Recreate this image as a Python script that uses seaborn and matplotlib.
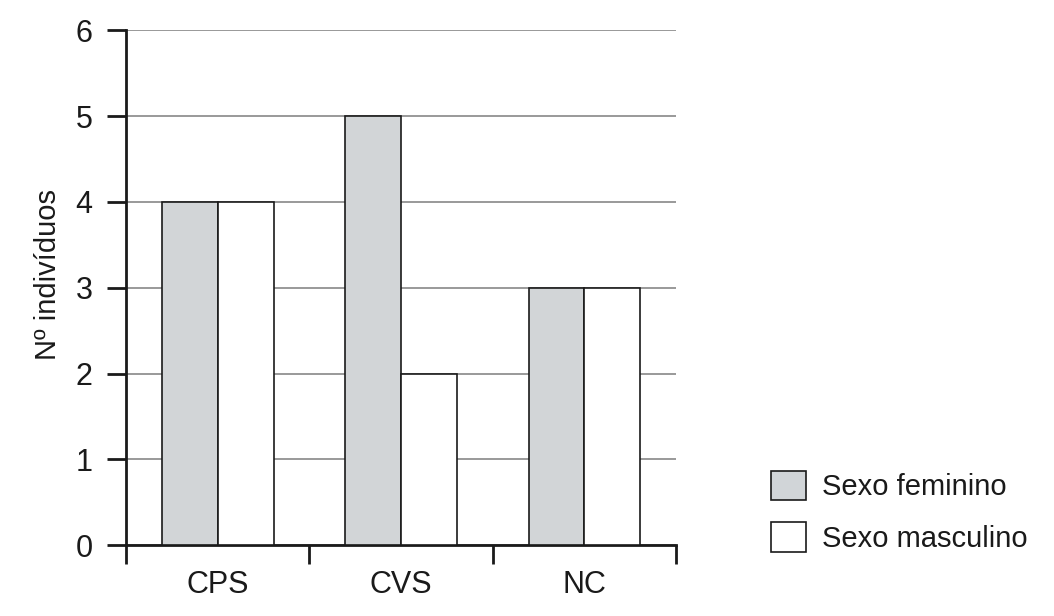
import pandas as pd
import seaborn as sns
import matplotlib.pyplot as plt
from matplotlib.patches import Patch

# Data
grupos = ['CPS', 'CVS', 'NC']
feminino = [4, 5, 3]
masculino = [4, 2, 3]
sexos = ['Sexo feminino', 'Sexo masculino']
cores = ['#d1d5d8', '#ffffff']

df = pd.DataFrame({
    'grupo': grupos * 2,
    'sexo': [sexos[0]] * 3 + [sexos[1]] * 3,
    'n': feminino + masculino,
})

sns.set_style('white')
plt.rcParams['font.family'] = ['Liberation Sans', 'DejaVu Sans']

fig = plt.figure(figsize=(10.54, 6.16), dpi=100)
ax = fig.add_axes([0.1195, 0.115, 0.522, 0.836])

sns.barplot(data=df, x='grupo', y='n', hue='sexo', palette=cores,
            width=0.61, gap=0, edgecolor='#1a1a1a', linewidth=1.2,
            ax=ax, legend=False, zorder=3)

ax.set_ylim(0, 6)
ax.set_xlim(-0.5, 2.5)
ax.set_yticks(range(0, 7))
ax.yaxis.grid(True, color='#888888', linewidth=1.2, zorder=0)
ax.set_axisbelow(True)

# boundary ticks between the groups
ax.set_xticks([-0.5, 0.5, 1.5, 2.5], minor=True)
ax.tick_params(axis='x', which='major', bottom=True, length=0, pad=18)
ax.tick_params(axis='x', which='minor', bottom=True, length=14, width=2,
               color='#1a1a1a', direction='out')
ax.tick_params(axis='y', left=True, length=14, width=2, color='#1a1a1a',
               direction='out', pad=10)
ax.tick_params(labelsize=22, colors='#1a1a1a')

for s in ['top', 'right']:
    ax.spines[s].set_visible(False)
for s in ['left', 'bottom']:
    ax.spines[s].set_linewidth(2)
    ax.spines[s].set_color('#1a1a1a')

ax.set_xlabel('')
ax.set_ylabel('Nº indivíduos', fontsize=21, color='#1a1a1a')
ax.yaxis.set_label_coords(-0.117, 0.525)

handles = [Patch(facecolor=c, edgecolor='#1a1a1a', linewidth=1.2) for c in cores]
fig.legend(handles, sexos, loc='lower left', bbox_to_anchor=(0.707, 0.06),
           frameon=False, fontsize=21, handlelength=1.17, handleheight=1.17,
           handletextpad=0.55, labelspacing=0.72, labelcolor='#1a1a1a')

fig.savefig('out.png', dpi=100, facecolor='white')
